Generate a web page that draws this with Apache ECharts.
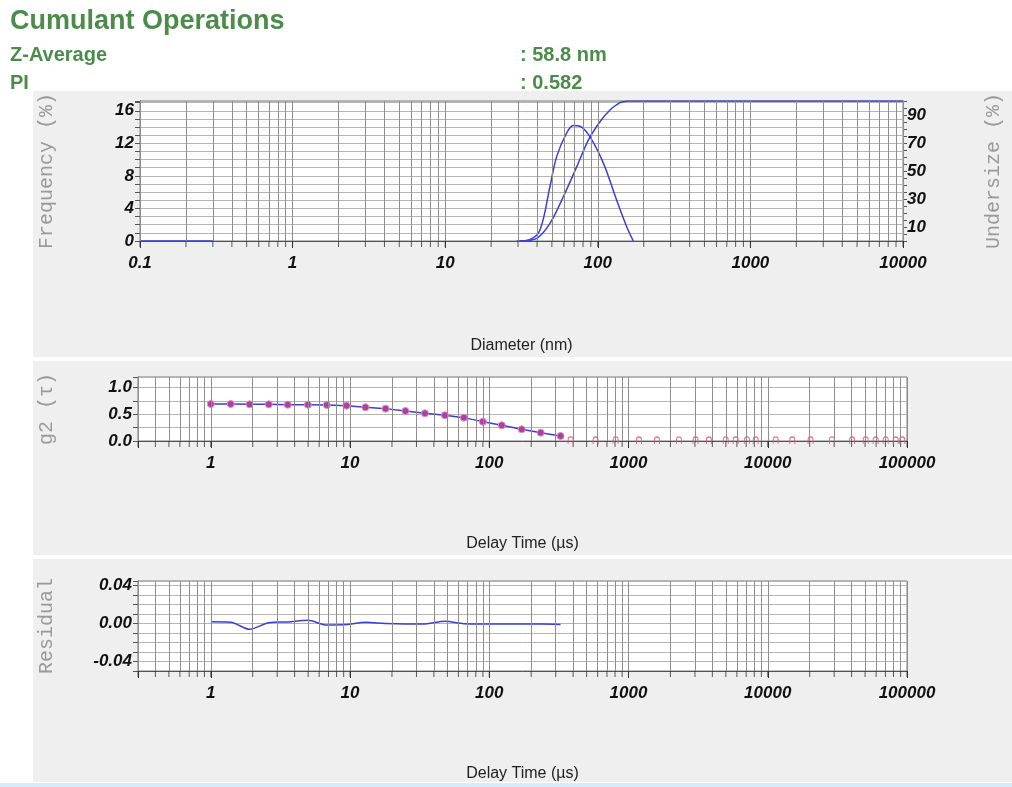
<!DOCTYPE html>
<html>
<head>
<meta charset="utf-8">
<script src="https://cdn.jsdelivr.net/npm/echarts@6/dist/echarts.min.js"></script>
<style>
html,body{margin:0;padding:0;background:#fff;}
#chart{width:1012px;height:787px;}
</style>
</head>
<body>
<div id="chart"></div>
<script>
// ---------- data ----------
const headerTitle = 'Cumulant Operations';
const headerRows = [['Z-Average', ': 58.8 nm'], ['PI', ': 0.582']];

// Size distribution (diameter in nm)
const freqBaseDiameters = [0.1, 0.3];
const freqBaseValues = [0, 0];
const diameters = [29.4, 36, 41.8, 48.6, 53.8, 62.6, 69.1, 76.4, 88.9, 108.6, 133, 154.6, 171];
const frequency = [0, 0.2, 1.35, 6.7, 10.4, 13.3, 14.2, 14.1, 12.8, 9.6, 5.0, 1.76, 0];
const undersizeDiameters = [30.9, 39.8, 48.6, 59.4, 72.8, 86.7, 103.3, 120.2, 139.7, 146.9, 160, 10000];
const undersize = [0, 1.9, 12.6, 31.6, 53.1, 72.1, 85.2, 93.6, 98.8, 99.5, 100, 100];

// Correlation function (delay time in µs)
const delayTimes = [1, 1.39, 1.90, 2.61, 3.57, 4.98, 6.81, 9.44, 12.9, 18.0, 25.0, 34.5, 48.0, 65.7, 89.9, 123, 171, 234, 325];
const g2Values = [0.694, 0.694, 0.688, 0.688, 0.681, 0.681, 0.675, 0.663, 0.632, 0.607, 0.563, 0.519, 0.482, 0.438, 0.363, 0.294, 0.219, 0.156, 0.094];
const noiseTimes = [384, 580, 808, 1189, 1600, 2300, 3030, 3780, 4990, 5880, 7090, 8190, 11400, 15000, 20300, 28900, 40300, 50500, 59600, 70300, 83000, 92500];
const noiseValues = [0.012, 0.010, 0.012, 0.008, 0.010, 0.012, 0.010, 0.008, 0.012, 0.010, 0.012, 0.010, 0.012, 0.008, 0.010, 0.012, 0.010, 0.012, 0.010, 0.012, 0.010, 0.008];

// Residuals
const residuals = [0.002, 0.0015, -0.006, 0.001, 0.0018, 0.0035, -0.0015, -0.001, 0.0015, 0.0002, -0.0003, -0.0003, 0.0025, 0, -0.0003, -0.0003, -0.0003, -0.0003, -0.0008];

// ---------- helpers ----------
const SANS = 'Liberation Sans, Arial, Helvetica, sans-serif';
const MONO = 'Liberation Mono, DejaVu Sans Mono, monospace';
const GREEN = '#4b8c4b';
const BLUE = '#3d3dd8';

function logGridValues(lo, hi) {
  const out = [];
  for (let d = -2; d <= 6; d++) {
    const base = Math.pow(10, d);
    for (let m = 1; m <= 9; m++) {
      const v = +(m * base).toPrecision(6);
      if (v >= lo * 0.9999 && v <= hi * 1.0001) out.push(v);
    }
  }
  return out;
}
const topGridX = logGridValues(0.1, 10000);
const lowGridX = logGridValues(0.3, 100000);

function decadeLabel(v) {
  const l = Math.log10(v);
  if (Math.abs(l - Math.round(l)) > 1e-3) return '';
  return v < 1 ? v.toFixed(1) : String(Math.round(v));
}
function zip(xs, ys) { return xs.map((x, i) => [x, ys[i]]); }

const tickLabelStyle = { fontFamily: SANS, fontWeight: 'bold', fontStyle: 'italic', fontSize: 17, color: '#111' };
const axisNameStyle = { fontFamily: SANS, fontSize: 16, color: '#222' };
const yNameStyle = { fontFamily: MONO, fontSize: 20, color: '#9a9a9a' };

function vLines(vals) {
  return {
    silent: true, symbol: ['none', 'none'], animation: false,
    label: { show: false },
    lineStyle: { color: '#8e8e8e', width: 1, type: 'solid' },
    emphasis: { disabled: true },
    data: vals.map(v => ({ xAxis: v }))
  };
}
function tickSeries(xi, yi, vals, y) {
  return {
    type: 'scatter', xAxisIndex: xi, yAxisIndex: yi, silent: true, z: 1,
    symbol: 'rect', symbolSize: [1, 6], symbolOffset: [0, 3],
    itemStyle: { color: '#333' },
    data: vals.map(v => [v, y]),
    markLine: vLines(vals)
  };
}

const xLogBase = {
  type: 'log', logBase: 10,
  axisLine: { show: true, onZero: false, lineStyle: { color: '#555' } },
  axisTick: { show: true, length: 7, lineStyle: { color: '#333' } },
  axisLabel: { formatter: decadeLabel, margin: 14, ...tickLabelStyle, showMinLabel: true, showMaxLabel: true },
  splitLine: { show: false },
  minorTick: { show: false }
};

const gridStyle = { show: true, backgroundColor: '#ffffff', borderColor: '#7a7a7a', borderWidth: 1 };
const hSplit = { show: true, lineStyle: { color: '#b4b4b4', width: 1 } };

const option = {
  animation: false,
  backgroundColor: '#ffffff',
  graphic: [
    { type: 'text', z: -3, left: 10, top: 8, style: { text: headerTitle, font: 'bold 27px ' + SANS, fill: GREEN } },
    { type: 'text', z: -3, left: 10, top: 45, style: { text: headerRows[0][0], font: 'bold 20px ' + SANS, fill: GREEN } },
    { type: 'text', z: -3, left: 520, top: 45, style: { text: headerRows[0][1], font: 'bold 20px ' + SANS, fill: GREEN } },
    { type: 'text', z: -3, left: 10, top: 73, style: { text: headerRows[1][0], font: 'bold 20px ' + SANS, fill: GREEN } },
    { type: 'text', z: -3, left: 520, top: 73, style: { text: headerRows[1][1], font: 'bold 20px ' + SANS, fill: GREEN } },
    { type: 'rect', z: -2, shape: { x: 33, y: 91, width: 979, height: 266 }, style: { fill: '#efefef' } },
    { type: 'rect', z: -2, shape: { x: 33, y: 361, width: 979, height: 194 }, style: { fill: '#efefef' } },
    { type: 'rect', z: -2, shape: { x: 33, y: 559, width: 979, height: 223 }, style: { fill: '#efefef' } },
    { type: 'rect', z: -2, shape: { x: 0, y: 783, width: 1012, height: 4 }, style: { fill: '#d6ecf8' } }
  ],
  grid: [
    { left: 140, top: 101, width: 763, height: 140, ...gridStyle },
    { left: 138, top: 377, width: 769, height: 64, ...gridStyle },
    { left: 138, top: 581, width: 769, height: 90, ...gridStyle }
  ],
  xAxis: [
    { ...xLogBase, gridIndex: 0, min: 0.1, max: 10000,
      name: 'Diameter (nm)', nameLocation: 'middle', nameGap: 97, nameTextStyle: axisNameStyle },
    { ...xLogBase, gridIndex: 1, min: 0.3, max: 100000,
      name: 'Delay Time (µs)', nameLocation: 'middle', nameGap: 95, nameTextStyle: axisNameStyle },
    { ...xLogBase, gridIndex: 2, min: 0.3, max: 100000,
      name: 'Delay Time (µs)', nameLocation: 'middle', nameGap: 95, nameTextStyle: axisNameStyle }
  ],
  yAxis: [
    { type: 'value', gridIndex: 0, min: 0, max: 17.2, interval: 1,
      axisLine: { show: true, lineStyle: { color: '#555' } },
      axisTick: { show: true, length: 5, lineStyle: { color: '#555' } },
      axisLabel: { margin: 6, ...tickLabelStyle,
        formatter: v => (Math.abs(v % 4) < 1e-6 && v <= 16.01) ? String(Math.round(v)) : '' },
      splitLine: hSplit,
      name: 'Frequency (%)', nameLocation: 'middle', nameGap: 83, nameRotate: 90, nameTextStyle: yNameStyle },
    { type: 'value', gridIndex: 0, position: 'right', min: 0, max: 100, interval: 5,
      axisLine: { show: true, lineStyle: { color: '#555' } },
      axisTick: { show: true, length: 4, lineStyle: { color: '#555' } },
      axisLabel: { margin: 4, ...tickLabelStyle,
        formatter: v => ([10, 30, 50, 70, 90].indexOf(Math.round(v)) >= 0 && Math.abs(v - Math.round(v)) < 1e-6) ? String(Math.round(v)) : '' },
      splitLine: { show: false },
      name: 'Undersize (%)', nameLocation: 'middle', nameGap: 81, nameRotate: 90, nameTextStyle: yNameStyle },
    { type: 'value', gridIndex: 1, min: 0, max: 1.2, interval: 0.25,
      axisLine: { show: true, lineStyle: { color: '#555' } },
      axisTick: { show: true, length: 5, lineStyle: { color: '#555' } },
      axisLabel: { margin: 6, ...tickLabelStyle,
        formatter: v => (Math.abs(v * 2 - Math.round(v * 2)) < 1e-6 && v <= 1.01) ? v.toFixed(1) : '' },
      splitLine: hSplit,
      name: 'g2 (τ)', nameLocation: 'middle', nameGap: 81, nameRotate: 90, nameTextStyle: yNameStyle },
    { type: 'value', gridIndex: 2, min: -0.05, max: 0.045, interval: 0.01,
      axisLine: { show: true, lineStyle: { color: '#555' } },
      axisTick: { show: true, length: 5, lineStyle: { color: '#555' } },
      axisLabel: { margin: 6, ...tickLabelStyle,
        formatter: v => (Math.abs(Math.abs(v) - 0.04) < 1e-6 || Math.abs(v) < 1e-6) ? v.toFixed(2) : '' },
      splitLine: hSplit,
      name: 'Residual', nameLocation: 'middle', nameGap: 81, nameRotate: 90, nameTextStyle: yNameStyle }
  ],
  series: [
    tickSeries(0, 0, topGridX, 0),
    { type: 'line', xAxisIndex: 0, yAxisIndex: 0, data: zip(freqBaseDiameters, freqBaseValues),
      showSymbol: false, lineStyle: { color: BLUE, width: 1.5 }, z: 3 },
    { type: 'line', xAxisIndex: 0, yAxisIndex: 0, data: zip(diameters, frequency), smooth: 0.35,
      showSymbol: false, lineStyle: { color: BLUE, width: 1.5 }, z: 3 },
    { type: 'line', xAxisIndex: 0, yAxisIndex: 1, data: zip(undersizeDiameters, undersize), smooth: 0.3,
      showSymbol: false, lineStyle: { color: BLUE, width: 1.5 }, z: 3 },

    tickSeries(1, 2, lowGridX, 0),
    { type: 'line', xAxisIndex: 1, yAxisIndex: 2, data: zip(delayTimes, g2Values),
      symbol: 'circle', symbolSize: 7, showSymbol: true,
      itemStyle: { color: '#a8429c', borderColor: '#e58ac4', borderWidth: 1 },
      lineStyle: { color: BLUE, width: 1.5 }, z: 3 },
    { type: 'scatter', xAxisIndex: 1, yAxisIndex: 2, data: zip(noiseTimes, noiseValues),
      symbol: 'path://M0,8 L0,3 A3,3 0 0 1 6,3 L6,8', symbolSize: [5, 7],
      itemStyle: { color: 'none', borderColor: '#e0507a', borderWidth: 1.2 }, z: 3 },

    tickSeries(2, 3, lowGridX, -0.05),
    { type: 'line', xAxisIndex: 2, yAxisIndex: 3, data: zip(delayTimes, residuals), smooth: 0.3,
      showSymbol: false, lineStyle: { color: BLUE, width: 1.5 }, z: 3 }
  ]
};

const chart = echarts.init(document.getElementById('chart'), null, { renderer: 'canvas' });
chart.setOption(option);
</script>
</body>
</html>
